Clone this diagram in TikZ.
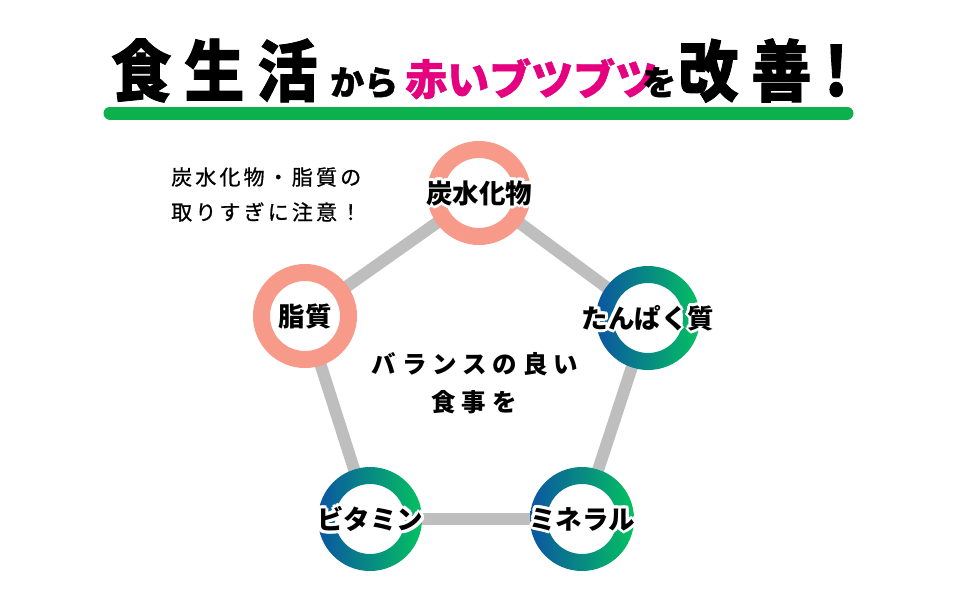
\documentclass[tikz,border=0pt]{standalone}
\usepackage{fontspec}
\usetikzlibrary{calc,backgrounds}
\newfontfamily\jp{Noto Sans CJK JP}
\newfontfamily\jph[BoldFeatures={FakeBold=1.2}]{Noto Sans CJK JP}
\newfontfamily\jpt[FakeStretch=0.9,LetterSpace=19,BoldFeatures={FakeBold=1.2}]{Noto Sans CJK JP}
\newfontfamily\jpsp[LetterSpace=24]{Noto Sans CJK JP}
\newfontfamily\jpnote[LetterSpace=15,FakeBold=0.8]{Noto Sans CJK JP}
\definecolor{salmon}{HTML}{F79A8A}
\definecolor{gblue}{HTML}{0B55A3}
\definecolor{ggreen}{HTML}{04C160}
\definecolor{edgegray}{HTML}{BEBEBE}
\definecolor{barGreen}{HTML}{0CB04C}
\definecolor{pinkT}{HTML}{E4007F}
\tikzset{
  ringsalmon/.style={circle, minimum size=87pt, inner sep=0pt, draw=salmon, line width=17pt, fill=white},
  ringgrad/.style={circle, minimum size=104pt, inner sep=0pt, fill=white},
  edge/.style={draw=edgegray, line width=12pt},
  ringlbl/.style={font=\jp\bfseries\fontsize{26.5}{30}\selectfont, inner sep=0pt, text=black},
  titlebig/.style={font=\jpt\bfseries\fontsize{67}{70}\selectfont, inner sep=0pt, anchor=base west},
  titlesmall/.style={font=\jph\bfseries\fontsize{34}{40}\selectfont, inner sep=0pt, anchor=base west},
}
\newcommand\halolabel[3]{%
  \foreach \a in {0,30,...,330} {%
    \node[ringlbl,text=white] at ($(#2)+(\a:3pt)$) {#3};
    \node[ringlbl,text=white] at ($(#2)+(\a+15:1.6pt)$) {#3};
  }
  \node[ringlbl] (#1) at (#2) {#3};%
}
\begin{document}
\begin{tikzpicture}[x=1pt,y=-1pt]
\useasboundingbox (0,0) rectangle (960,600);
% title
\node[titlebig] (t1) at (111,96) {食生活};
\node[titlesmall] (t2) at (330,95) {から};
\node[inner sep=0pt, anchor=base west, font=\jph\bfseries\fontsize{42}{48}\selectfont, text=pinkT] (t3) at (405,95) {赤いブツブツ};
\node[titlesmall] (t4) at (642,95) {を};
\node[titlebig] (t5) at (678,96) {改善!};
\coordinate (barL) at (110,113);
\coordinate (barR) at (847,113);
\draw[barGreen, line width=13pt, line cap=round] (barL) -- (barR);
% note
\node[inner sep=0pt, anchor=west, font=\jpnote\fontsize{21}{26}\selectfont] (note1) at (171,177) {炭水化物・脂質の};
\node[inner sep=0pt, anchor=west, font=\jpnote\fontsize{21}{26}\selectfont] (note2) at (171,212) {取りすぎに注意！};
% rings
\node[ringsalmon] (carb) at (479,193) {};
\node[ringsalmon] (fat) at (305,316) {};
\node[ringgrad] (prot) at (648,318) {};
\node[ringgrad] (vita) at (370,519) {};
\node[ringgrad] (mine) at (582,519) {};
\foreach \n in {prot,vita,mine} {
  \shade[even odd rule, left color=gblue, right color=ggreen] (\n.center) circle (52pt) (\n.center) circle (35pt);
}
\begin{scope}[on background layer]
  \fill[white] (0,0) rectangle (960,600);
  \draw[edge] (carb.center) -- (prot.center);
  \draw[edge] (prot.center) -- (mine.center);
  \draw[edge] (mine.center) -- (vita.center);
  \draw[edge] (vita.center) -- (fat.center);
  \draw[edge] (fat.center) -- (carb.center);
\end{scope}
\halolabel{lcarb}{carb.center}{炭水化物}
\halolabel{lfat}{fat.center}{脂質}
\halolabel{lprot}{prot.center}{たんぱく質}
\halolabel{lvita}{vita.center}{ビタミン}
\halolabel{lmine}{mine.center}{ミネラル}
% center text
\node[inner sep=0pt, font=\jpsp\bfseries\fontsize{24.5}{30}\selectfont] (bal1) at (475,364) {バランスの良い};
\node[inner sep=0pt, font=\jpsp\bfseries\fontsize{24.5}{30}\selectfont] (bal2) at (474,402) {食事を};
\end{tikzpicture}
\end{document}
